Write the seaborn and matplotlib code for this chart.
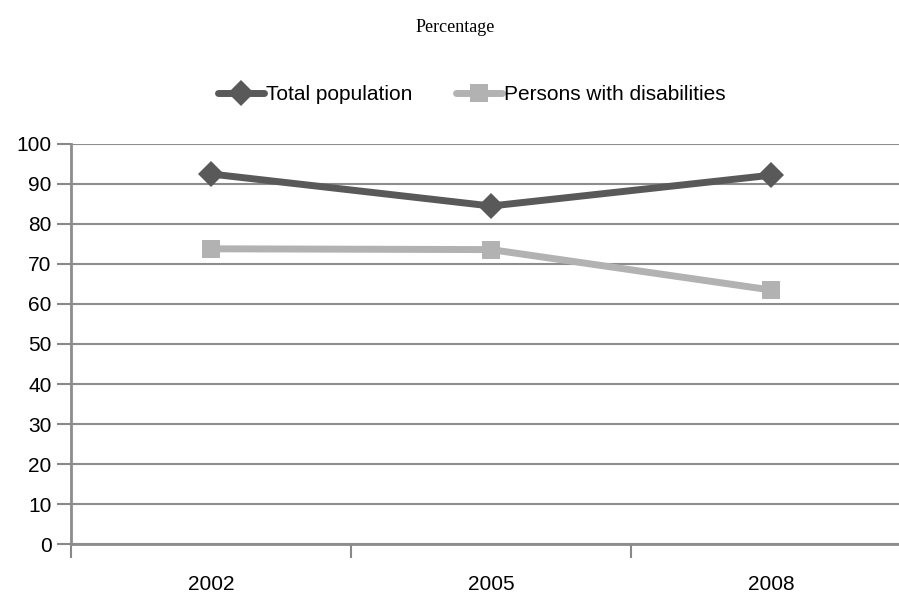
import matplotlib
matplotlib.use("Agg")
import matplotlib.pyplot as plt
import seaborn as sns
import pandas as pd

# data
years = ["2002", "2005", "2008"]
total_population = [92.5, 84.5, 92.2]
persons_with_disabilities = [73.8, 73.6, 63.5]
series_names = ["Total population", "Persons with disabilities"]
y_ticks = list(range(0, 101, 10))

df = pd.DataFrame({
    "year": years * 2,
    "value": total_population + persons_with_disabilities,
    "series": [series_names[0]] * len(years) + [series_names[1]] * len(years),
})
df["pos"] = [years.index(y) for y in df["year"]]

sns.set_theme(style="white")
plt.rcParams["font.family"] = ["Liberation Sans", "DejaVu Sans"]
plt.rcParams["text.color"] = "black"
plt.rcParams["xtick.color"] = "black"
plt.rcParams["ytick.color"] = "black"

fig = plt.figure(figsize=(8.99, 5.95), dpi=100)
ax = fig.add_axes([71 / 899, 51 / 595, 840 / 899, 400 / 595])

palette = {series_names[0]: "#595959", series_names[1]: "#b2b2b2"}
markers = {series_names[0]: "D", series_names[1]: "s"}

sns.lineplot(
    data=df,
    x="pos",
    y="value",
    hue="series",
    style="series",
    palette=palette,
    markers=markers,
    dashes=False,
    linewidth=5,
    markersize=13,
    markeredgewidth=0,
    ax=ax,
    zorder=3,
)

ax.set_xlim(-0.5, 2.5)
ax.set_ylim(0, 100)
ax.set_yticks(y_ticks)
ax.set_xticks(range(len(years)))
ax.set_xticklabels(years)
ax.set_xticks([-0.5, 0.5, 1.5, 2.5], minor=True)
ax.tick_params(axis="x", which="major", length=0, labelsize=15, pad=22,
               labelcolor="black")
ax.tick_params(axis="x", which="minor", length=10, width=1.5, color="#888888",
               direction="out", bottom=True)
ax.tick_params(axis="y", length=10, width=1.5, color="#888888", left=True,
               labelsize=15, pad=4, labelcolor="black")

ax.yaxis.grid(True, color="#8c8c8c", linewidth=1.5)
ax.set_axisbelow(True)
for side in ["top", "right"]:
    ax.spines[side].set_visible(False)
for side in ["left", "bottom"]:
    ax.spines[side].set_color("#8c8c8c")
    ax.spines[side].set_linewidth(2)

ax.set_xlabel("")
ax.set_ylabel("")

handles, labels = ax.get_legend_handles_labels()
ax.legend(
    handles, labels,
    loc="center", bbox_to_anchor=(472 / 899, 1 - 95 / 595),
    bbox_transform=fig.transFigure,
    ncol=2, frameon=False, fontsize=15,
    handlelength=2.2, handletextpad=0.1, columnspacing=2.1,
    labelcolor="black",
)

fig.text(455 / 899, 1 - 27 / 595, "Percentage", ha="center", va="center",
         fontsize=13, family=["Liberation Serif", "DejaVu Serif"],
         color="black")

fig.savefig("out.png", dpi=100)
plt.close(fig)
